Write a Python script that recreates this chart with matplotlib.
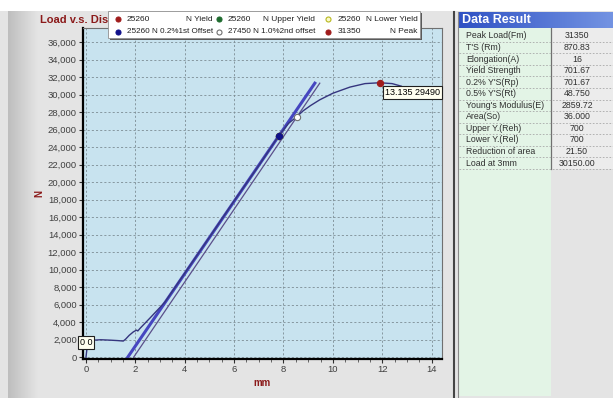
import matplotlib
matplotlib.use('Agg')
import matplotlib.pyplot as plt
import numpy as np
from matplotlib.patches import Rectangle
from matplotlib.ticker import MultipleLocator, FuncFormatter

plt.rcParams['font.family'] = ['Liberation Sans', 'DejaVu Sans']

# load / displacement curve (mm, N)
disp = [0, 0.05, 0.1, 0.3, 0.6, 1.0, 1.3, 1.51, 1.6, 1.75, 1.92, 2.05, 2.1, 2.19,
        2.6, 3.2, 4.0, 5.0, 6.0, 7.0, 7.8, 8.2, 8.53, 8.8, 9.1, 9.47, 10.0, 10.69,
        11.3, 11.9, 12.4, 12.78, 13.135]
load = [0, 1200, 1600, 1950, 2000, 1950, 1900, 1850, 2050, 2500, 2900, 3100, 3000, 3300,
        4500, 6300, 9600, 13700, 17850, 21900, 25260, 26700, 27450, 28150, 28750, 29400,
        30150, 30850, 31250, 31350, 31250, 30950, 29490]

# offset lines
offset1_x = [1.69, 9.27]
offset1_y = [0, 31300]
offset2_x = [1.93, 9.47]
offset2_y = [0, 31300]

# marked points (legend order)
point_names = ['Yield', 'Upper Yield', 'Lower Yield', '0.2%1st Offset', '1.0%2nd offset', 'Peak']
point_vals = ['25260', '25260', '25260', '25260', '27450', '31350']
point_x = [7.8, 7.8, 7.8, 7.8, 8.53, 11.9]
point_y = [25260, 25260, 25260, 25260, 27450, 31350]
point_face = ['#a01c1c', '#1e6b2e', '#fbfbc8', '#10108a', '#ffffff', '#a01c1c']
point_edge = ['#a01c1c', '#1e6b2e', '#b8b820', '#10108a', '#707070', '#a01c1c']

# result table
result_names = ['Peak Load(Fm)', "T'S (Rm)", 'Elongation(A)', 'Yield Strength', "0.2% Y'S(Rp)",
                "0.5% Y'S(Rt)", "Young's Modulus(E)", 'Area(So)', 'Upper Y.(Reh)',
                'Lower Y.(Rel)', 'Reduction of area', 'Load at 3mm']
result_vals = ['31350', '870.83', '16', '701.67', '701.67', '48.750', '2859.72', '36.000',
               '700', '700', '21.50', '30150.00']

W, H = 613, 398
fig = plt.figure(figsize=(W / 100, H / 100), dpi=100, facecolor='#e4e4e4')

# background overlay in pixel coords
bg = fig.add_axes([0, 0, 1, 1], zorder=0)
bg.axis('off')
grad = np.linspace(0, 1, 64).reshape(1, -1)
gray_map = matplotlib.colors.LinearSegmentedColormap.from_list('g', ['#bebebe', '#e4e4e4'])
bg.imshow(grad, extent=[8, 38, H, 10], aspect='auto', cmap=gray_map)
bg.add_patch(Rectangle((0, 0), W, 11, color='white', lw=0))
blue_map = matplotlib.colors.LinearSegmentedColormap.from_list('b', ['#2f52c4', '#7393e2'])
bg.imshow(grad, extent=[458, W, 28, 12], aspect='auto', cmap=blue_map)
bg.text(462, 20, 'Data Result', color='white', fontsize=9, fontweight='bold', va='center')
bg.plot([454, 454], [12, H], color='#454545', lw=1.5)
bg.plot([457.5, 457.5], [12, H], color='#8a8a8a', lw=0.8)

row_h = 11.55
row_top = 30.2
n_rows = len(result_names)
table_bot = row_top + n_rows * row_h
bg.add_patch(Rectangle((458, 28), 93, H - 30, color='#e3f4e6', lw=0))
bg.add_patch(Rectangle((551, 28), W - 551, table_bot - 28, color='#ececec', lw=0))
bg.plot([551, 551], [28, table_bot], color='#707070', lw=0.9)
for i, (name, val) in enumerate(zip(result_names, result_vals)):
    yc = row_top + (i + 0.5) * row_h
    bg.text(466, yc, name, fontsize=6.3, color='#303030', va='center')
    bg.text(577, yc, val, fontsize=6.3, color='#303030', va='center', ha='center')
    yl = row_top + (i + 1) * row_h
    bg.plot([459, W], [yl, yl], color='#a8a8a8', lw=0.6, ls=(0, (2, 2)))
bg.set_xlim(0, W)
bg.set_ylim(H, 0)

# main chart
ax = fig.add_axes([83 / W, 1 - 359 / H, (442 - 83) / W, (359 - 28) / H], zorder=1)
ax.set_facecolor('#c8e3ef')
ax.plot(disp, load, color='#35357e', lw=1.0, zorder=3)
ax.plot(offset1_x, offset1_y, color='#4646c0', lw=2.2, zorder=2)
ax.plot(offset2_x, offset2_y, color='#5a4f8a', lw=0.9, zorder=2)
for px, py, fc, ec in zip(point_x, point_y, point_face, point_edge):
    ax.plot(px, py, 'o', ms=4.5, mfc=fc, mec=ec, mew=0.8, zorder=4)

box = dict(boxstyle='square,pad=0.2', fc='#fffff0', ec='#202020', lw=0.8)
ax.annotate('0 0', xy=(disp[0], load[0]), xytext=(-6, 15), textcoords='offset pixels',
            fontsize=6.5, va='center', ha='left', bbox=box, zorder=5, annotation_clip=False)
ax.annotate(f'{disp[-1]} {load[-1]}', xy=(disp[-1], load[-1]), xytext=(-25, 6.5),
            textcoords='offset pixels', fontsize=6.5, va='center', ha='left', bbox=box, zorder=5)

ax.set_xlim(-0.12, 14.42)
ax.set_ylim(-200, 37600)
ax.xaxis.set_major_locator(MultipleLocator(2))
ax.xaxis.set_minor_locator(MultipleLocator(0.5))
ax.yaxis.set_major_locator(MultipleLocator(2000))
ax.yaxis.set_major_formatter(FuncFormatter(lambda v, p: f'{int(v):,}'))
ax.tick_params(labelsize=6.8, labelcolor='#404040', length=3, pad=1.5, color='#303030')
ax.tick_params(axis='x', which='minor', length=2, color='#505050')
ax.grid(True, color='#7c8c94', lw=0.6, ls=(0, (2.5, 2.5)))
ax.set_axisbelow(True)
for s in ['left', 'bottom']:
    ax.spines[s].set_color('black')
    ax.spines[s].set_linewidth(1.6)
for s in ['top', 'right']:
    ax.spines[s].set_color('#707070')
    ax.spines[s].set_linewidth(0.8)
ax.set_xlabel('mm', color='#8b1a1a', fontsize=7, fontweight='bold', labelpad=3)
ax.set_ylabel('N', color='#8b1a1a', fontsize=7, fontweight='bold', labelpad=2)

# title and legend overlay
top = fig.add_axes([0, 0, 1, 1], zorder=2)
top.axis('off')
top.patch.set_alpha(0)
title = top.text(40, 20, 'Load v.s. Displacement', color='#8b1a1a', fontsize=8,
                 fontweight='bold', va='center', zorder=1)
# the legend box hides the end of the title
title.set_clip_path(Rectangle((0, 0), 108, 40, transform=top.transData))
top.add_patch(Rectangle((110, 13), 312, 27, color='#5a5a5a', lw=0, zorder=2))
top.add_patch(Rectangle((108, 11), 312, 27, fc='white', ec='#909090', lw=0.6, zorder=3))
col_x = [117.5, 218.5, 328]
col_end = [212.5, 315, 417.5]
row_y = [19.3, 31.5]
for k, (name, val) in enumerate(zip(point_names, point_vals)):
    r, c = divmod(k, 3)
    top.plot(col_x[c], row_y[r], 'o', ms=3.6, mfc=point_face[k], mec=point_edge[k], mew=0.8, zorder=4)
    if len(name) > 12:
        # long names run straight after the value
        top.text(col_x[c] + 9.5, row_y[r], f'{val} N {name}', fontsize=5.9, color='#202020',
                 va='center', zorder=4)
    else:
        top.text(col_x[c] + 9.5, row_y[r], val, fontsize=6, color='#202020', va='center', zorder=4)
        top.text(col_end[c], row_y[r], 'N ' + name, fontsize=6, color='#202020', va='center',
                 ha='right', zorder=4)
top.set_xlim(0, W)
top.set_ylim(H, 0)

fig.savefig('out.png', dpi=100, facecolor=fig.get_facecolor())
